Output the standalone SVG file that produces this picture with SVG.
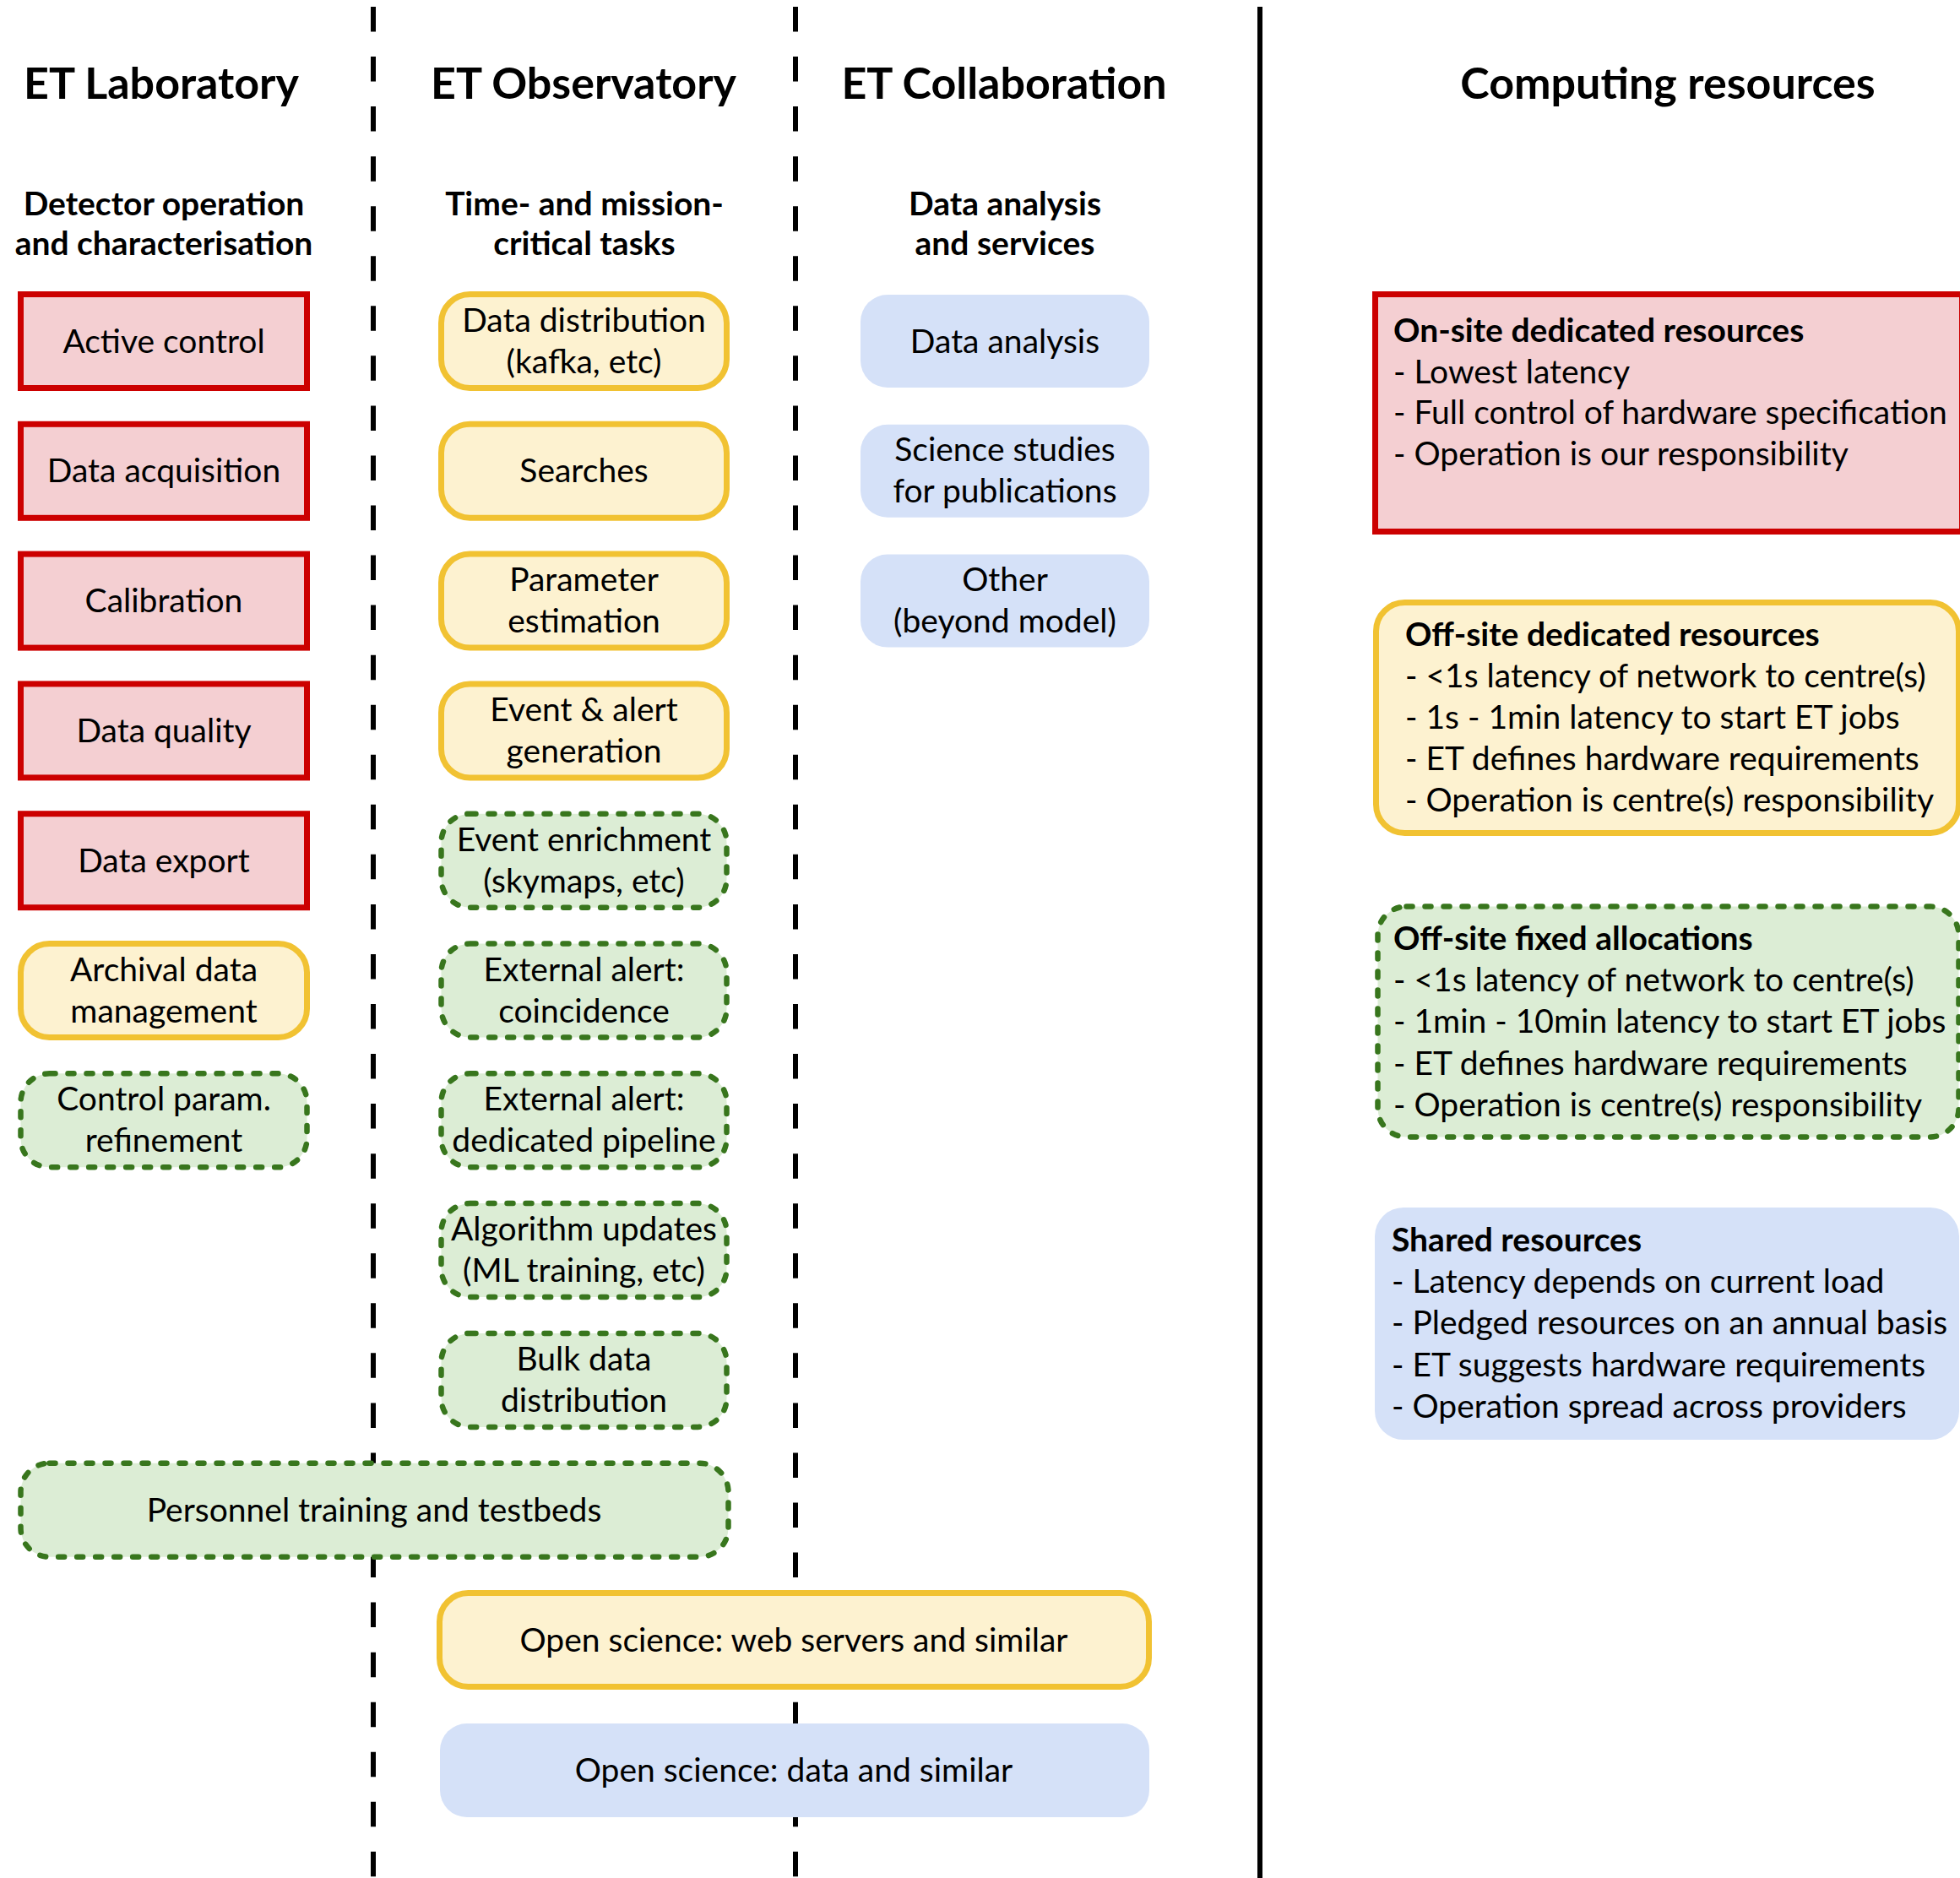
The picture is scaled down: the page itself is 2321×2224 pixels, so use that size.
<svg xmlns="http://www.w3.org/2000/svg" width="2321" height="2224" viewBox="0 0 2321 2224">
<style>
text{font-family:Lato,"Liberation Sans",sans-serif;fill:#000}
.h{font-size:52px;font-weight:700;text-anchor:middle}
.s{font-size:39px;font-weight:700;text-anchor:middle}
.t{font-size:39px;text-anchor:middle}
.r{font-size:39px}
.rb{font-size:39px;font-weight:700}
.red{fill:#f4cfd2;stroke:#cc0000;stroke-width:7}
.yel{fill:#fdf2d0;stroke:#f1c232;stroke-width:7}
.grn{fill:#dcedd5;stroke:#38761d;stroke-width:6.5;stroke-dasharray:7 15;stroke-linecap:round}
.blu{fill:#d5e1f8}
.dl{stroke:#000;stroke-width:6;stroke-dasharray:29.5 29.55}
</style>
<rect width="2321" height="2224" fill="#fff"/>
<g id="connectors">
<line class="dl" x1="442" y1="8" x2="442" y2="2224"/>
<line class="dl" x1="942" y1="8" x2="942" y2="2224"/>
<line x1="1492" y1="8" x2="1492" y2="2224" stroke="#000" stroke-width="6"/>
</g>
<g id="headers">
<text class="h" x="191" y="117">ET Laboratory</text>
<text class="h" x="691" y="117">ET Observatory</text>
<text class="h" x="1189" y="117">ET Collaboration</text>
<text class="h" x="1975" y="117">Computing resources</text>
<text class="s" x="194" y="255">Detector operation</text>
<text class="s" x="194" y="302">and characterisation</text>
<text class="s" x="692" y="255">Time- and mission-</text>
<text class="s" x="692" y="302">critical tasks</text>
<text class="s" x="1190" y="255">Data analysis</text>
<text class="s" x="1190" y="302">and services</text>
</g>
<g id="active-control"><rect class="red" x="24.5" y="348.5" width="339" height="111"/><text class="t" x="194" y="417.5">Active control</text></g>
<g id="data-acquisition"><rect class="red" x="24.5" y="502.3" width="339" height="111"/><text class="t" x="194" y="571.3">Data acquisition</text></g>
<g id="calibration"><rect class="red" x="24.5" y="656.1" width="339" height="111"/><text class="t" x="194" y="725.1">Calibration</text></g>
<g id="data-quality"><rect class="red" x="24.5" y="809.9" width="339" height="111"/><text class="t" x="194" y="878.9">Data quality</text></g>
<g id="data-export"><rect class="red" x="24.5" y="963.7" width="339" height="111"/><text class="t" x="194" y="1032.7">Data export</text></g>
<g id="archival"><rect class="yel" x="24.5" y="1117.5" width="339" height="111" rx="34"/><text class="t" x="194" y="1161.5">Archival data</text><text class="t" x="194" y="1210.5">management</text></g>
<g id="control-param"><rect class="grn" x="24.5" y="1271.3" width="339" height="111" rx="34"/><text class="t" x="194" y="1315.3">Control param.</text><text class="t" x="194" y="1364.3">refinement</text></g>

<g id="data-distribution"><rect class="yel" x="522.5" y="348.5" width="338" height="111" rx="34"/><text class="t" x="691.5" y="392.5">Data distribution</text><text class="t" x="691.5" y="441.5">(kafka, etc)</text></g>
<g id="searches"><rect class="yel" x="522.5" y="502.3" width="338" height="111" rx="34"/><text class="t" x="691.5" y="571.3">Searches</text></g>
<g id="parameter-estimation"><rect class="yel" x="522.5" y="656.1" width="338" height="111" rx="34"/><text class="t" x="691.5" y="700.1">Parameter</text><text class="t" x="691.5" y="749.1">estimation</text></g>
<g id="event-alert"><rect class="yel" x="522.5" y="809.9" width="338" height="111" rx="34"/><text class="t" x="691.5" y="853.9">Event &amp; alert</text><text class="t" x="691.5" y="902.9">generation</text></g>
<g id="event-enrichment"><rect class="grn" x="522.5" y="963.7" width="338" height="111" rx="34"/><text class="t" x="691.5" y="1007.7">Event enrichment</text><text class="t" x="691.5" y="1056.7">(skymaps, etc)</text></g>
<g id="ext-coincidence"><rect class="grn" x="522.5" y="1117.5" width="338" height="111" rx="34"/><text class="t" x="691.5" y="1161.5">External alert:</text><text class="t" x="691.5" y="1210.5">coincidence</text></g>
<g id="ext-pipeline"><rect class="grn" x="522.5" y="1271.3" width="338" height="111" rx="34"/><text class="t" x="691.5" y="1315.3">External alert:</text><text class="t" x="691.5" y="1364.3">dedicated pipeline</text></g>
<g id="algorithm-updates"><rect class="grn" x="522.5" y="1425.1" width="338" height="111" rx="34"/><text class="t" x="691.5" y="1469.1">Algorithm updates</text><text class="t" x="691.5" y="1518.1">(ML training, etc)</text></g>
<g id="bulk-data"><rect class="grn" x="522.5" y="1578.9" width="338" height="111" rx="34"/><text class="t" x="691.5" y="1622.9">Bulk data</text><text class="t" x="691.5" y="1671.9">distribution</text></g>

<g id="data-analysis"><rect class="blu" x="1019" y="349" width="342" height="110" rx="32"/><text class="t" x="1190" y="417.5">Data analysis</text></g>
<g id="science-studies"><rect class="blu" x="1019" y="502.8" width="342" height="110" rx="32"/><text class="t" x="1190" y="546.3">Science studies</text><text class="t" x="1190" y="595.3">for publications</text></g>
<g id="other"><rect class="blu" x="1019" y="656.6" width="342" height="110" rx="32"/><text class="t" x="1190" y="700.1">Other</text><text class="t" x="1190" y="749.1">(beyond model)</text></g>

<g id="personnel"><rect class="grn" x="24.5" y="1732.7" width="838" height="111" rx="34"/><text class="t" x="443" y="1801.7">Personnel training and testbeds</text></g>
<g id="open-web"><rect class="yel" x="520.5" y="1886.5" width="840" height="111" rx="34"/><text class="t" x="940" y="1955.5">Open science: web servers and similar</text></g>
<g id="open-data"><rect class="blu" x="521" y="2041" width="840" height="111" rx="32"/><text class="t" x="940" y="2109.5">Open science: data and similar</text></g>

<g id="onsite"><rect class="red" x="1628.5" y="348.5" width="695" height="281"/>
<text class="rb" x="1650" y="405">On-site dedicated resources</text>
<text class="r" x="1650" y="453.5">- Lowest latency</text>
<text class="r" x="1650" y="502">- Full control of hardware specification</text>
<text class="r" x="1650" y="550.5">- Operation is our responsibility</text></g>
<g id="offsite-dedicated"><rect class="yel" x="1629.5" y="713.5" width="690" height="273" rx="34"/>
<text class="rb" x="1664" y="765">Off-site dedicated resources</text>
<text class="r" x="1664" y="814">- &lt;1s latency of network to centre(s)</text>
<text class="r" x="1664" y="863">- 1s - 1min latency to start ET jobs</text>
<text class="r" x="1664" y="912">- ET defines hardware requirements</text>
<text class="r" x="1664" y="961">- Operation is centre(s) responsibility</text></g>
<g id="offsite-fixed"><rect class="grn" x="1631.5" y="1073.5" width="688" height="273" rx="34"/>
<text class="rb" x="1650" y="1125">Off-site fixed allocations</text>
<text class="r" x="1650" y="1174">- &lt;1s latency of network to centre(s)</text>
<text class="r" x="1650" y="1223">- 1min - 10min latency to start ET jobs</text>
<text class="r" x="1650" y="1273">- ET defines hardware requirements</text>
<text class="r" x="1650" y="1322">- Operation is centre(s) responsibility</text></g>
<g id="shared"><rect class="blu" x="1628" y="1430" width="692" height="275" rx="34"/>
<text class="rb" x="1648" y="1482">Shared resources</text>
<text class="r" x="1648" y="1531">- Latency depends on current load</text>
<text class="r" x="1648" y="1580">- Pledged resources on an annual basis</text>
<text class="r" x="1648" y="1630">- ET suggests hardware requirements</text>
<text class="r" x="1648" y="1679">- Operation spread across providers</text></g>
</svg>
